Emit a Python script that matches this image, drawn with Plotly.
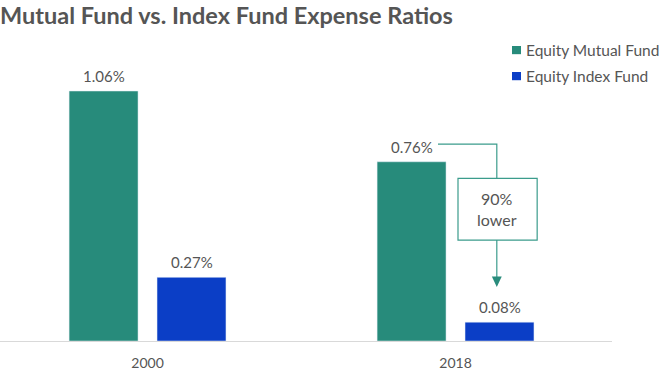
import plotly.graph_objects as go

categories = ["2000", "2018"]
mutual_fund = [1.06, 0.76]
index_fund = [0.27, 0.08]
series_names = ["Equity Mutual Fund", "Equity Index Fund"]
colors = ["#278b7b", "#0b3ec6"]
callout_text = "90%<br>lower"

FONT = "Lato, 'Open Sans', sans-serif"
GRAY = "#555555"
TEAL_LINE = "#3b9c8c"
SLOT_SHIFT = 44  # px offset of each bar from its category centre

fig = go.Figure()
for name, vals, col in zip(series_names, [mutual_fund, index_fund], colors):
    fig.add_trace(go.Bar(
        x=categories, y=vals, name=name, marker_color=col,
        showlegend=False, hoverinfo="x+y",
    ))

annotations = []
# value labels above bars (x given as category index)
for vals, sh in zip([mutual_fund, index_fund], [-SLOT_SHIFT, SLOT_SHIFT]):
    for i, v in enumerate(vals):
        annotations.append(dict(
            xref="x", yref="y", x=i, y=v, text=f"{v:.2f}%", showarrow=False,
            xshift=sh, yshift=15, yanchor="middle",
            font=dict(family=FONT, size=15, color=GRAY)))

# callout: elbow connector, box, arrow (data coords on category index axis)
x_lbl_end, x_mid, x_box0, x_box1 = 0.943, 1.134, 1.008, 1.265
y_top, y_box1, y_box0, y_tip = 0.835, 0.69, 0.428, 0.229
shapes = [
    dict(type="path", xref="x", yref="y",
         path=f"M{x_lbl_end},{y_top} L{x_mid},{y_top} L{x_mid},{y_box1}",
         line=dict(color=TEAL_LINE, width=1.2)),
    dict(type="rect", xref="x", yref="y", x0=x_box0, x1=x_box1, y0=y_box0, y1=y_box1,
         line=dict(color=TEAL_LINE, width=1.2), fillcolor="white"),
    dict(type="line", xref="x", yref="y", x0=x_mid, x1=x_mid, y0=y_box0, y1=y_tip + 0.03,
         line=dict(color=TEAL_LINE, width=1.2)),
    dict(type="path", xref="x", yref="y",
         path=f"M{x_mid-0.016},{y_tip+0.045} L{x_mid+0.016},{y_tip+0.045} L{x_mid},{y_tip} Z",
         line=dict(color="#2a8c7c", width=0), fillcolor="#2a8c7c"),
]
annotations.append(dict(xref="x", yref="y", x=x_mid, y=(y_box0 + y_box1) / 2,
                        text=callout_text, showarrow=False, align="center",
                        font=dict(family=FONT, size=16, color=GRAY)))

# legend squares + labels in paper coords
leg_y = [1.028, 0.936]
for name, col, ly in zip(series_names, colors, leg_y):
    shapes.append(dict(type="rect", xref="paper", yref="paper",
                       x0=0.8366, x1=0.8513, y0=ly - 0.0145, y1=ly + 0.0145,
                       fillcolor=col, line=dict(width=0)))
    annotations.append(dict(xref="paper", yref="paper", x=0.856, y=ly, text=name,
                            xanchor="left", yanchor="middle", showarrow=False,
                            font=dict(family=FONT, size=15.5, color=GRAY)))

fig.update_layout(
    width=672, height=381,
    margin=dict(l=0, r=60, t=58, b=40),
    paper_bgcolor="white", plot_bgcolor="white",
    barmode="group", bargap=0.429, bargroupgap=0.216,
    title=dict(text="<b>Mutual Fund vs. Index Fund Expense Ratios</b>",
               x=0.0, xanchor="left", y=0.958, yanchor="middle", yref="container",
               font=dict(family=FONT, size=23.5, color=GRAY)),
    xaxis=dict(type="category", range=[-0.479, 1.508], showline=True,
               linecolor="#d9d9d9", linewidth=1, ticks="", showgrid=False,
               ticklabelstandoff=9,
               tickfont=dict(family=FONT, size=14, color=GRAY)),
    yaxis=dict(range=[0, 1.2], visible=False, showgrid=False, zeroline=False),
    shapes=shapes, annotations=annotations,
)

fig.write_html("out.html", config={"displayModeBar": False},
               post_script="document.body.style.margin='0';")
